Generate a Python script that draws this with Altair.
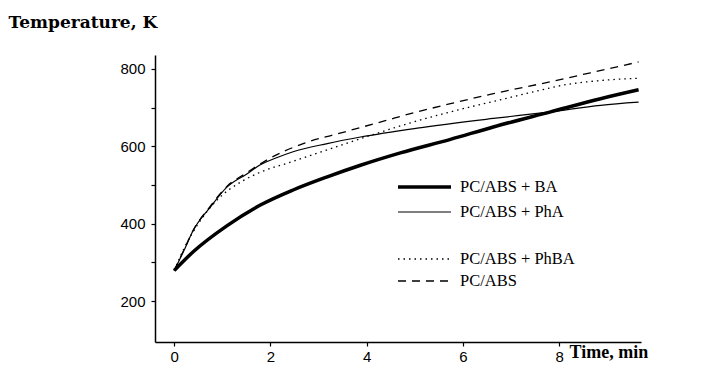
import altair as alt
import pandas as pd

# ---- data (time in min, temperature in K) ----
ba_t = [0, 0.4, 1.1, 1.79, 2.47, 3.18, 3.87, 4.7, 5.74, 6.63, 7.82, 8.86, 9.65]
ba_y = [279, 328, 395, 448, 487, 521, 551, 583, 618, 650, 689, 723, 746]

pha_t = [0, 0.2, 0.4, 0.75, 1.1, 1.5, 1.79, 2.14, 2.47, 3.18, 3.87, 5.05, 6.63, 7.82, 8.86, 9.65]
pha_y = [279, 330, 384, 443, 495, 528, 552, 571, 586, 607, 624, 647, 672, 689, 706, 714]

phba_t = [0, 0.2, 0.5, 0.89, 1.43, 1.79, 2.47, 3.18, 4.0, 4.84, 5.74, 6.84, 7.5, 8.17, 8.86, 9.65]
phba_y = [279, 335, 400, 461, 511, 533, 561, 591, 625, 658, 689, 722, 742, 760, 770, 776]

abs_t = [0, 0.2, 0.4, 0.75, 1.1, 1.5, 1.93, 2.68, 3.51, 4.35, 5.05, 5.74, 6.63, 7.82, 8.65, 9.65]
abs_y = [279, 332, 384, 445, 497, 531, 565, 607, 636, 665, 689, 710, 736, 767, 790, 818]

labels = ["PC/ABS + BA", "PC/ABS + PhA", "PC/ABS + PhBA", "PC/ABS"]

x_ticks = [0, 2, 4, 6, 8]
y_ticks = [200, 300, 400, 500, 600, 700, 800]

# ---- scales / axes ----
xscale = alt.Scale(domain=[-0.4, 9.7], nice=False, zero=False)
yscale = alt.Scale(domain=[94, 836], nice=False, zero=False)

xaxis = alt.Axis(values=x_ticks, title="Time, min", titleAngle=0, titleX=414, titleY=10,
                 titleAlign="left", titleBaseline="middle", titleFont="Liberation Serif",
                 titleFontWeight="bold", titleFontSize=18, titleColor="black",
                 labelFont="Liberation Sans", labelFontSize=15, labelColor="black",
                 labelPadding=3, tickSize=4, grid=False)
yaxis = alt.Axis(values=y_ticks, labelExpr="datum.value % 200 == 0 ? datum.label : ''",
                 title="Temperature, K", titleAngle=0, titleX=-147, titleY=-33,
                 titleAlign="left", titleBaseline="middle", titleFont="DejaVu Serif",
                 titleFontWeight="bold", titleFontSize=17, titleColor="black",
                 labelFont="Liberation Sans", labelFontSize=15, labelColor="black",
                 labelPadding=6, tickSize=4, grid=False)


def series(ts, ys, name):
    return pd.DataFrame({"t": ts, "T": ys, "s": name})


def curve(df, width, dash=None):
    kw = dict(color="black", strokeWidth=width, interpolate="monotone", strokeCap="butt")
    if dash:
        kw["strokeDash"] = dash
    return alt.Chart(df).mark_line(**kw).encode(
        x=alt.X("t:Q", scale=xscale, axis=xaxis),
        y=alt.Y("T:Q", scale=yscale, axis=yaxis),
    )


c_ba = curve(series(ba_t, ba_y, labels[0]), 3.5)
c_pha = curve(series(pha_t, pha_y, labels[1]), 1.2)
c_phba = curve(series(phba_t, phba_y, labels[2]), 1.3, dash=[1.5, 4])
c_abs = curve(series(abs_t, abs_y, labels[3]), 1.3, dash=[8, 6])

# ---- hand-drawn legend (layout positions in px inside the plot area) ----
leg_y = [132, 157, 204, 226]
leg_style = [(3.5, None), (1.2, None), (1.3, [1.5, 4]), (1.3, [8, 6])]
legend_layers = []
for lab, yy, (w, d) in zip(labels, leg_y, leg_style):
    one = pd.DataFrame({"label": [lab]})
    kw = dict(color="black", strokeWidth=w, strokeCap="butt")
    if d:
        kw["strokeDash"] = d
    legend_layers.append(
        alt.Chart(one).mark_rule(**kw).encode(
            x=alt.value(243), x2=alt.value(296), y=alt.value(yy)))
    legend_layers.append(
        alt.Chart(one).mark_text(align="left", baseline="middle", font="Liberation Serif",
                                 fontSize=16.5, color="black").encode(
            x=alt.value(305), y=alt.value(yy), text="label:N"))

chart = alt.layer(c_ba, c_pha, c_phba, c_abs, *legend_layers).properties(
    width=486, height=287,
    autosize=alt.AutoSizeParams(type="none"),
    padding={"left": 147, "top": 47, "right": 40, "bottom": 25},
).configure_view(stroke=None).configure_axis(
    domainColor="black", domainWidth=1.5, tickColor="black", tickWidth=1.2
)

chart.save("out.html", embed_options={"renderer": "svg", "actions": False})
